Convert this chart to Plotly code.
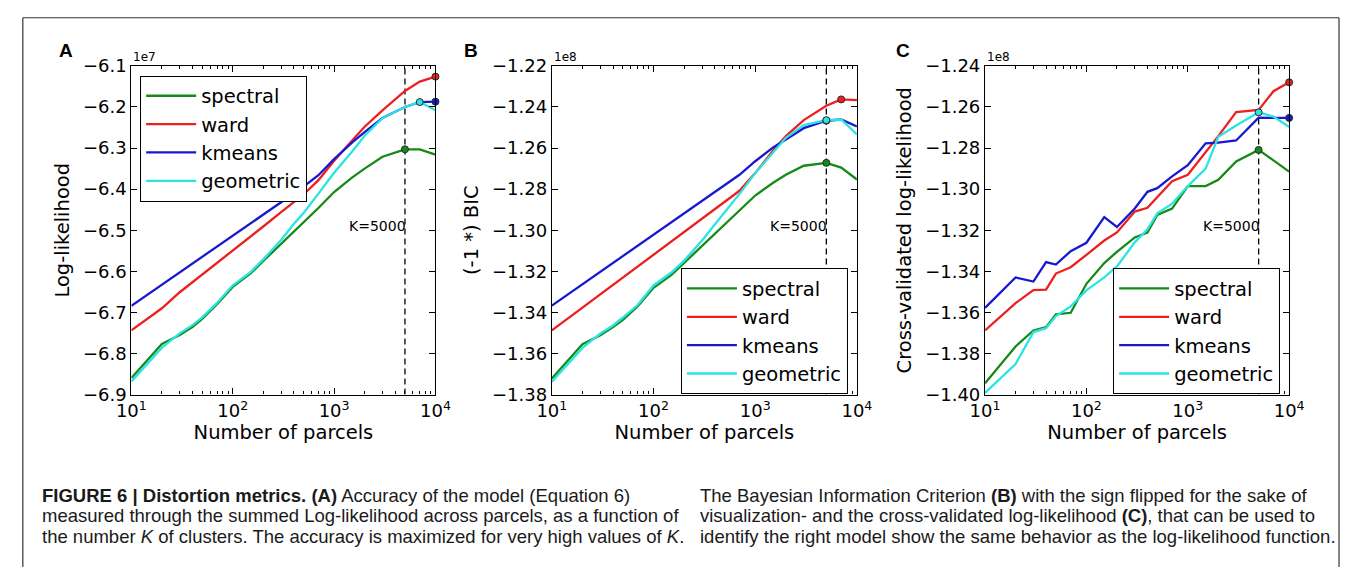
import math
import plotly.graph_objects as go

# ---------------- data ----------------
K = [10, 20, 30, 40, 50, 70, 100, 150, 200, 300, 400, 500, 700, 1000, 1500, 2000, 3000, 5000, 7000, 10000]
K_SEL = 5000
SERIES = ["spectral", "ward", "kmeans", "geometric"]
COLORS = {"spectral": "#168a16", "ward": "#ee1f1f", "kmeans": "#1818d2", "geometric": "#2ae4e4"}

# Panel A: log-likelihood (x 1e7)
A_spectral = [-6.860, -6.777, -6.755, -6.736, -6.716, -6.680, -6.638, -6.605, -6.575, -6.534, -6.505, -6.481, -6.446, -6.407, -6.372, -6.350, -6.321, -6.303, -6.303, -6.316]
A_ward = [-6.744, -6.690, -6.651, -6.627, -6.608, -6.579, -6.549, -6.515, -6.491, -6.456, -6.432, -6.413, -6.378, -6.331, -6.282, -6.248, -6.208, -6.161, -6.138, -6.126]
A_kmeans = [-6.684, -6.633, -6.603, -6.581, -6.565, -6.540, -6.513, -6.483, -6.463, -6.432, -6.410, -6.394, -6.366, -6.327, -6.287, -6.261, -6.227, -6.200, -6.188, -6.187]
A_geometric = [-6.868, -6.786, -6.751, -6.731, -6.712, -6.677, -6.634, -6.602, -6.571, -6.524, -6.485, -6.458, -6.411, -6.360, -6.309, -6.270, -6.227, -6.200, -6.188, -6.208]

# Panel B: (-1 *) BIC (x 1e8)
B_spectral = [-1.3722, -1.3555, -1.3511, -1.3472, -1.3436, -1.3370, -1.3280, -1.3217, -1.3159, -1.3077, -1.3019, -1.2972, -1.2902, -1.2831, -1.2769, -1.2730, -1.2686, -1.2672, -1.2695, -1.2753]
B_ward = [-1.3488, -1.3377, -1.3313, -1.3266, -1.3230, -1.3175, -1.3119, -1.3053, -1.3008, -1.2942, -1.2897, -1.2861, -1.2808, -1.2722, -1.2612, -1.2542, -1.2464, -1.2394, -1.2363, -1.2367]
B_kmeans = [-1.3367, -1.3263, -1.3203, -1.3159, -1.3125, -1.3075, -1.3022, -1.2959, -1.2917, -1.2856, -1.2813, -1.2780, -1.2730, -1.2664, -1.2597, -1.2558, -1.2503, -1.2467, -1.2461, -1.2495]
B_geometric = [-1.3738, -1.3573, -1.3503, -1.3464, -1.3425, -1.3363, -1.3269, -1.3206, -1.3148, -1.3050, -1.2972, -1.2914, -1.2823, -1.2722, -1.2620, -1.2550, -1.2488, -1.2464, -1.2461, -1.2534]

# Panel C: cross-validated log-likelihood (x 1e8)
C_spectral = [-1.3945, -1.3766, -1.3688, -1.3672, -1.3610, -1.3602, -1.3461, -1.3360, -1.3305, -1.3235, -1.3212, -1.3126, -1.3095, -1.2985, -1.2985, -1.2954, -1.2865, -1.2809, -1.2860, -1.2915]
C_ward = [-1.3688, -1.3555, -1.3492, -1.3489, -1.3411, -1.3380, -1.3320, -1.3250, -1.3211, -1.3109, -1.3091, -1.3039, -1.2961, -1.2930, -1.2820, -1.2742, -1.2625, -1.2614, -1.2523, -1.2480]
C_kmeans = [-1.3578, -1.3430, -1.3450, -1.3355, -1.3367, -1.3302, -1.3261, -1.3136, -1.3184, -1.3094, -1.3013, -1.2995, -1.2938, -1.2883, -1.2777, -1.2773, -1.2763, -1.2652, -1.2653, -1.2653]
C_geometric = [-1.3992, -1.3852, -1.3696, -1.3677, -1.3618, -1.3571, -1.3493, -1.3430, -1.3376, -1.3259, -1.3196, -1.3118, -1.3071, -1.2985, -1.2900, -1.2745, -1.2690, -1.2626, -1.2647, -1.2697]

# best-K markers (series, K)
MARK_A = [("ward", 10000), ("kmeans", 10000), ("geometric", 7000), ("spectral", 5000)]
MARK_B = [("ward", 7000), ("kmeans", 5000), ("geometric", 5000), ("spectral", 5000)]
MARK_C = [("ward", 10000), ("kmeans", 10000), ("geometric", 5000), ("spectral", 5000)]

YRANGE_A = [-6.9, -6.1]
YRANGE_B = [-1.38, -1.22]
YRANGE_C = [-1.40, -1.24]
YTICKS_A = [-6.9, -6.8, -6.7, -6.6, -6.5, -6.4, -6.3, -6.2, -6.1]
YTICKS_B = [-1.38, -1.36, -1.34, -1.32, -1.30, -1.28, -1.26, -1.24, -1.22]
YTICKS_C = [-1.40, -1.38, -1.36, -1.34, -1.32, -1.30, -1.28, -1.26, -1.24]
XTICKS = [10, 100, 1000, 10000]
XTICK_TEXT = ["10<sup>1</sup>", "10<sup>2</sup>", "10<sup>3</sup>", "10<sup>4</sup>"]
XMINOR = [m * 10 ** d for d in range(1, 4) for m in range(2, 10)]

YTITLES = ["Log-likelihood", "(-1 *) BIC", "Cross-validated log-likelihood"]
XTITLE = "Number of parcels"
OFFSETS = ["1e7", "1e8", "1e8"]
LETTERS = ["A", "B", "C"]

CAP_LEFT = [
    "<b>FIGURE 6 | Distortion metrics.</b> <b>(A)</b> Accuracy of the model (Equation 6)",
    "measured through the summed Log-likelihood across parcels, as a function of",
    "the number <i>K</i> of clusters. The accuracy is maximized for very high values of <i>K</i>.",
]
CAP_RIGHT = [
    "The Bayesian Information Criterion <b>(B)</b> with the sign flipped for the sake of",
    "visualization- and the cross-validated log-likelihood <b>(C)</b>, that can be used to",
    "identify the right model show the same behavior as the log-likelihood function.",
]

# ---------------- layout geometry ----------------
W, H = 1355, 577
FONT = "DejaVu Sans"
XDOM = [(119, 430), (549, 861), (992, 1303)]
YDOM = (57, 398)
LEGPOS = [(128, 67), (681, 267), (1123, 267)]

panels = [
    ({"spectral": A_spectral, "ward": A_ward, "kmeans": A_kmeans, "geometric": A_geometric}, MARK_A, YRANGE_A, YTICKS_A),
    ({"spectral": B_spectral, "ward": B_ward, "kmeans": B_kmeans, "geometric": B_geometric}, MARK_B, YRANGE_B, YTICKS_B),
    ({"spectral": C_spectral, "ward": C_ward, "kmeans": C_kmeans, "geometric": C_geometric}, MARK_C, YRANGE_C, YTICKS_C),
]

fig = go.Figure()
annotations = []
layout = {}

for p, (data, marks, yr, yt) in enumerate(panels):
    sfx = "" if p == 0 else str(p + 1)
    xa, ya = "x" + sfx, "y" + sfx
    leg = "legend" + sfx
    # dashed K=5000 line
    fig.add_trace(go.Scatter(x=[K_SEL, K_SEL], y=yr, mode="lines", xaxis=xa, yaxis=ya,
                             line=dict(color="black", width=1.3, dash="6px,4px"),
                             showlegend=False, hoverinfo="skip"))
    for s in SERIES:
        fig.add_trace(go.Scatter(x=K, y=data[s], mode="lines", name=s, xaxis=xa, yaxis=ya,
                                 line=dict(color=COLORS[s], width=2.3), legend=leg))
    for s, k in marks:
        i = K.index(k)
        fig.add_trace(go.Scatter(x=[K[i]], y=[data[s][i]], mode="markers", xaxis=xa, yaxis=ya,
                                 marker=dict(color=COLORS[s], size=7, line=dict(color="#2a2a2a", width=1)),
                                 showlegend=False, cliponaxis=False))

    x0, x1 = XDOM[p]
    layout["xaxis" + sfx] = dict(
        type="log", range=[1, 4], domain=[x0 / W, x1 / W], anchor=ya,
        tickmode="array", tickvals=XTICKS, ticktext=XTICK_TEXT,
        ticks="inside", ticklen=6, tickwidth=1, tickcolor="black",
        minor=dict(ticks="inside", ticklen=3, tickwidth=1, tickcolor="black", tickmode="array", tickvals=XMINOR),
        showline=True, linecolor="black", linewidth=1.2, mirror="ticks",
        showgrid=False, zeroline=False,
        tickfont=dict(family=FONT, size=18, color="black"),
        title=dict(text=XTITLE, font=dict(family=FONT, size=19.5, color="black"), standoff=4),
    )
    layout["yaxis" + sfx] = dict(
        range=yr, domain=[1 - YDOM[1] / H, 1 - YDOM[0] / H], anchor=xa,
        tickmode="array", tickvals=yt, ticktext=[("−%.1f" if p == 0 else "−%.2f") % abs(v) for v in yt],
        ticks="inside", ticklen=6, tickwidth=1, tickcolor="black",
        showline=True, linecolor="black", linewidth=1.2, mirror="ticks",
        showgrid=False, zeroline=False,
        tickfont=dict(family=FONT, size=18, color="black"),
        title=dict(text=YTITLES[p], font=dict(family=FONT, size=19.5, color="black"), standoff=8),
    )
    lx, ly = LEGPOS[p]
    layout[leg] = dict(
        x=lx / W, y=1 - ly / H, xanchor="left", yanchor="top",
        bordercolor="black", borderwidth=1, bgcolor="white",
        font=dict(family=FONT, size=19.5, color="black"), itemwidth=50,
        tracegroupgap=0,
    )
    # offset label
    annotations.append(dict(text=OFFSETS[p], xref=xa + " domain", yref=ya + " domain", x=0, y=1,
                            xanchor="left", yanchor="bottom", showarrow=False,
                            font=dict(family=FONT, size=12, color="black")))
    # K=5000 label
    annotations.append(dict(text="K=%d" % K_SEL, xref=xa, yref=ya + " domain", x=math.log10(K_SEL), y=0.513,
                            xanchor="right", yanchor="middle", xshift=3, showarrow=False,
                            font=dict(family=FONT, size=14, color="black")))
    # panel letter
    annotations.append(dict(text="<b>%s</b>" % LETTERS[p], xref="paper", yref="paper",
                            x=[52, 466, 908][p] / W, y=1 - 41 / H, xanchor="center", yanchor="middle",
                            showarrow=False, font=dict(family="Liberation Sans", size=19, color="black")))

# caption
for i, (l, r) in enumerate(zip(CAP_LEFT, CAP_RIGHT)):
    yc = [502.5, 524, 545.5][i]
    annotations.append(dict(text=l, xref="paper", yref="paper", x=26 / W, y=1 - yc / H,
                            xanchor="left", yanchor="middle", showarrow=False,
                            font=dict(family="Liberation Sans", size=18.5, color="#1a1a1a")))
    annotations.append(dict(text=r, xref="paper", yref="paper", x=698 / W, y=1 - yc / H,
                            xanchor="left", yanchor="middle", showarrow=False,
                            font=dict(family="Liberation Sans", size=18.5, color="#1a1a1a")))

shapes = [
    dict(type="line", xref="paper", yref="paper", x0=8 / W, x1=8 / W, y0=0, y1=1 - 7 / H, line=dict(color="#333", width=1.2)),
    dict(type="line", xref="paper", yref="paper", x0=8 / W, x1=1354 / W, y0=1 - 7 / H, y1=1 - 7 / H, line=dict(color="#333", width=1.2)),
    dict(type="line", xref="paper", yref="paper", x0=1354 / W, x1=1354 / W, y0=0, y1=1 - 7 / H, line=dict(color="#333", width=1.2)),
]

fig.update_layout(
    width=W, height=H, margin=dict(l=0, r=0, t=0, b=0),
    paper_bgcolor="white", plot_bgcolor="white",
    annotations=annotations, shapes=shapes, **layout,
)
fig.write_html("out.html")
